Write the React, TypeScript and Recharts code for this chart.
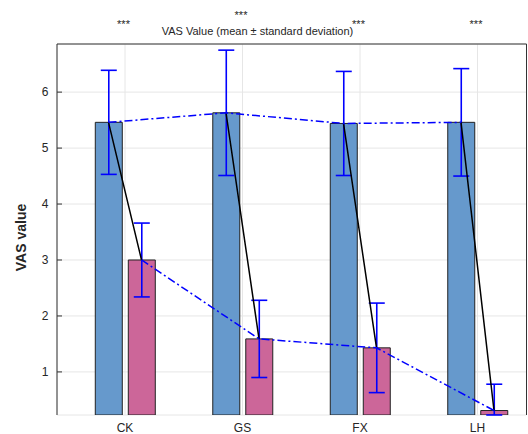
import {
  ComposedChart, Bar, Line, XAxis, YAxis, CartesianGrid,
  ErrorBar, LabelList, Label
} from "recharts";

const categories = ["CK", "GS", "FX", "LH"];
const blueMean = [5.46, 5.63, 5.44, 5.46];
const blueSd = [0.93, 1.12, 0.93, 0.96];
const pinkMean = [3.0, 1.59, 1.43, 0.31];
const pinkSd = [0.66, 0.69, 0.8, 0.47];
const starLevel = [7.14, 7.31, 7.14, 7.15];
const starText = ["***", "***", "***", "***"];
const yTicks = [1, 2, 3, 4, 5, 6];

const W = 528;
const H = 434;
const X_DOMAIN: [number, number] = [0.421, 4.417];
const Y_DOMAIN: [number, number] = [0.23, 6.86];
const MARGIN = { top: 43, right: 0.5, bottom: 0, left: 0 };
const LEFT_W = 57;
const RIGHT_W = 1;
const BOTTOM_H = 19;
const PLOT_BOTTOM = H - MARGIN.bottom - BOTTOM_H;
const BAR_SIZE = 27;
const BAR_GAP = 6;
const FONT = "'Liberation Sans', Arial, Helvetica, sans-serif";
const AXIS = "#333333";

// offset (in x units) from group centre to each bar's centre
const plotW = W - MARGIN.left - MARGIN.right - LEFT_W - RIGHT_W;
const pxPerUnit = plotW / (X_DOMAIN[1] - X_DOMAIN[0]);
const half = (BAR_SIZE + BAR_GAP) / 2 / pxPerUnit;

const xs = categories.map((_, i) => i + 1);

// error bars stop at the bottom of the axes (the rest is clipped)
const err = (m: number, s: number) => [Math.min(s, m - Y_DOMAIN[0]), s];

const rows = categories.map((name, i) => ({
  x: xs[i],
  name,
  blue: blueMean[i],
  blueErr: err(blueMean[i], blueSd[i]),
  pink: pinkMean[i],
  pinkErr: err(pinkMean[i], pinkSd[i]),
}));

const blueTrend = xs.map((x, i) => ({ x: x - half, y: blueMean[i] }));
const pinkTrend = xs.map((x, i) => ({ x: x + half, y: pinkMean[i] }));
const links = xs.flatMap((x, i) => [
  { x: x - half, y: blueMean[i] },
  { x: x + half, y: pinkMean[i] },
  { x: x + 0.5, y: null },
]);
const stars = xs.map((x, i) => ({ x, y: starLevel[i], t: starText[i] }));

const renderStar = (p: any) => {
  const x = p.x ?? p.viewBox?.x;
  const y = p.y ?? p.viewBox?.y;
  return (
    <text x={x - 1.5} y={y} textAnchor="middle" fontSize={11} fill="#262626" fontFamily={FONT}>
      {p.value}
    </text>
  );
};

const renderXTick = (p: any) => (
  <text
    x={p.x}
    y={PLOT_BOTTOM + 16.5}
    textAnchor="middle"
    fontSize={12}
    fill="#262626"
    fontFamily={FONT}
  >
    {categories[p.payload.value - 1]}
  </text>
);

const renderYLabel = (p: any) => {
  const vb = p.viewBox;
  const x = vb.x + 26;
  const y = vb.y + vb.height / 2 + 8;
  return (
    <text
      x={x}
      y={y}
      textAnchor="middle"
      transform={`rotate(-90, ${x}, ${y})`}
      fontSize={14}
      fontWeight="bold"
      fill="#262626"
      fontFamily={FONT}
    >
      VAS value
    </text>
  );
};

export default function App() {
  return (
    <div style={{ position: "absolute", left: 0, top: 0, width: W, height: H, background: "#fff" }}>
      <div
        style={{
          position: "absolute",
          left: 0,
          top: 25,
          width: 515,
          textAlign: "center",
          fontFamily: FONT,
          fontSize: 11,
          lineHeight: "13px",
          color: "#262626",
        }}
      >
        VAS Value (mean ± standard deviation)
      </div>
      <ComposedChart width={W} height={H} data={rows} margin={MARGIN} barGap={BAR_GAP}>
        <CartesianGrid xAxisId="main" yAxisId="main" stroke="#e6e6e6" />
        <XAxis
          xAxisId="main"
          type="number"
          dataKey="x"
          domain={X_DOMAIN}
          ticks={xs}
          interval={0}
          allowDataOverflow
          height={BOTTOM_H}
          tickSize={-5}
          stroke={AXIS}
          tick={renderXTick}
        />
        <XAxis xAxisId="line" type="number" dataKey="x" domain={X_DOMAIN} allowDataOverflow hide />
        <XAxis
          xAxisId="top"
          orientation="top"
          type="number"
          dataKey="x"
          domain={X_DOMAIN}
          ticks={xs}
          interval={0}
          allowDataOverflow
          height={1}
          tick={false}
          tickSize={-5}
          stroke={AXIS}
        />
        <YAxis
          yAxisId="main"
          type="number"
          domain={Y_DOMAIN}
          ticks={yTicks}
          interval={0}
          allowDataOverflow
          width={LEFT_W}
          tickSize={-5}
          tickMargin={13.5}
          stroke={AXIS}
          tick={{ fontSize: 12, fill: "#262626", fontFamily: FONT }}
        >
          <Label content={renderYLabel} />
        </YAxis>
        <YAxis
          yAxisId="right"
          orientation="right"
          type="number"
          domain={Y_DOMAIN}
          ticks={yTicks}
          interval={0}
          allowDataOverflow
          width={RIGHT_W}
          tick={false}
          tickSize={-5}
          stroke={AXIS}
        />
        <Bar
          xAxisId="main"
          yAxisId="main"
          dataKey="blue"
          barSize={BAR_SIZE}
          fill="#6699cc"
          stroke="#222"
          strokeWidth={1}
          isAnimationActive={false}
        >
          <ErrorBar dataKey="blueErr" width={8} stroke="#0000ff" strokeWidth={1.6} direction="y" />
        </Bar>
        <Bar
          xAxisId="main"
          yAxisId="main"
          dataKey="pink"
          barSize={BAR_SIZE}
          fill="#cc6699"
          stroke="#222"
          strokeWidth={1}
          isAnimationActive={false}
        >
          <ErrorBar dataKey="pinkErr" width={8} stroke="#0000ff" strokeWidth={1.6} direction="y" />
        </Bar>
        <Line
          xAxisId="line"
          yAxisId="main"
          data={links}
          dataKey="y"
          stroke="#000"
          strokeWidth={1.5}
          dot={false}
          activeDot={false}
          connectNulls={false}
          isAnimationActive={false}
        />
        <Line
          xAxisId="line"
          yAxisId="main"
          data={blueTrend}
          dataKey="y"
          stroke="#0000ff"
          strokeWidth={1.5}
          strokeDasharray="8 3 2 3"
          dot={false}
          activeDot={false}
          isAnimationActive={false}
        />
        <Line
          xAxisId="line"
          yAxisId="main"
          data={pinkTrend}
          dataKey="y"
          stroke="#0000ff"
          strokeWidth={1.5}
          strokeDasharray="8 3 2 3"
          dot={false}
          activeDot={false}
          isAnimationActive={false}
        />
        <Line
          xAxisId="line"
          yAxisId="main"
          data={stars}
          dataKey="y"
          stroke="none"
          dot={false}
          activeDot={false}
          isAnimationActive={false}
        >
          <LabelList dataKey="t" content={renderStar} />
        </Line>
      </ComposedChart>
    </div>
  );
}
